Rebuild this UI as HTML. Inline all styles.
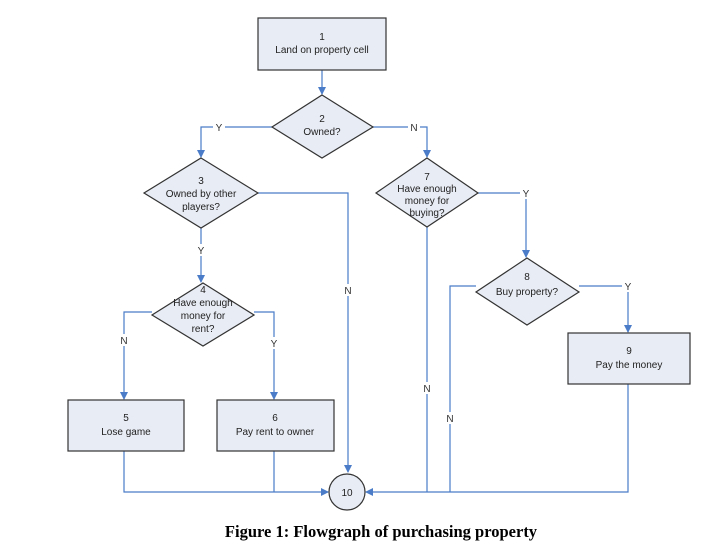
<!DOCTYPE html>
<html><head><style>body{margin:0;background:#fff}</style></head><body>
<svg width="717" height="545" xmlns="http://www.w3.org/2000/svg" font-family="Liberation Sans, sans-serif" font-size="10" fill="#222">
<defs><marker id="a" markerWidth="8" markerHeight="8" refX="7" refY="4" orient="auto" markerUnits="userSpaceOnUse"><path d="M0,0 L8,4 L0,8 z" fill="#4a7cc7"/></marker></defs>
<g stroke="#4a7cc7" stroke-width="1.2" fill="none">
<line x1="322" y1="70" x2="322" y2="94" marker-end="url(#a)"/>
<polyline points="272,127 201,127 201,157" marker-end="url(#a)"/>
<polyline points="373,127 427,127 427,157" marker-end="url(#a)"/>
<polyline points="258,193 348,193 348,472" marker-end="url(#a)"/>
<line x1="201" y1="228" x2="201" y2="282" marker-end="url(#a)"/>
<polyline points="478,193 526,193 526,257" marker-end="url(#a)"/>
<line x1="427" y1="227" x2="427" y2="492"/>
<polyline points="152,312 124,312 124,399" marker-end="url(#a)"/>
<polyline points="254,312 274,312 274,399" marker-end="url(#a)"/>
<polyline points="476,286 450,286 450,492"/>
<polyline points="579,286 628,286 628,332" marker-end="url(#a)"/>
<polyline points="124,451 124,492 328,492" marker-end="url(#a)"/>
<line x1="274" y1="451" x2="274" y2="492"/>
<polyline points="628,384 628,492 366,492" marker-end="url(#a)"/>
</g>
<g fill="#e8ecf4" stroke="#333" stroke-width="1.2">
<rect x="258" y="18" width="128" height="52"/>
<polygon points="322,95 373,127 322,158 272,127"/>
<polygon points="201,158 258,193 201,228 144,193"/>
<polygon points="427,158 478,193 427,227 376,193"/>
<polygon points="203,283 254,315 203,346 152,315"/>
<polygon points="527,258 579,292 527,325 476,292"/>
<rect x="68" y="400" width="116" height="51"/>
<rect x="217" y="400" width="117" height="51"/>
<rect x="568" y="333" width="122" height="51"/>
<circle cx="347" cy="492" r="18"/>
</g>
<g text-anchor="middle">
<text x="322" y="40">1</text><text x="322" y="53">Land on property cell</text>
<text x="322" y="122">2</text><text x="322" y="135">Owned?</text>
<text x="201" y="184">3</text><text x="201" y="197">Owned by other</text><text x="201" y="210">players?</text>
<text x="427" y="180">7</text><text x="427" y="192">Have enough</text><text x="427" y="204">money for</text><text x="427" y="216">buying?</text>
<text x="203" y="293">4</text><text x="203" y="306">Have enough</text><text x="203" y="319">money for</text><text x="203" y="332">rent?</text>
<text x="527" y="280">8</text><text x="527" y="295">Buy property?</text>
<text x="126" y="421">5</text><text x="126" y="435">Lose game</text>
<text x="275" y="421">6</text><text x="275" y="435">Pay rent to owner</text>
<text x="629" y="354">9</text><text x="629" y="368">Pay the money</text>
<text x="347" y="496">10</text>
<g fill="#333"><rect x="213" y="121" width="12" height="12" fill="#fff"/><text x="219" y="131">Y</text>
<rect x="408" y="121" width="12" height="12" fill="#fff"/><text x="414" y="131">N</text>
<rect x="520" y="187" width="12" height="12" fill="#fff"/><text x="526" y="197">Y</text>
<rect x="195" y="244" width="12" height="12" fill="#fff"/><text x="201" y="254">Y</text>
<rect x="342" y="284" width="12" height="12" fill="#fff"/><text x="348" y="294">N</text>
<rect x="118" y="334" width="12" height="12" fill="#fff"/><text x="124" y="344">N</text>
<rect x="268" y="337" width="12" height="12" fill="#fff"/><text x="274" y="347">Y</text>
<rect x="622" y="280" width="12" height="12" fill="#fff"/><text x="628" y="290">Y</text>
<rect x="421" y="382" width="12" height="12" fill="#fff"/><text x="427" y="392">N</text>
<rect x="444" y="412" width="12" height="12" fill="#fff"/><text x="450" y="422">N</text></g>
<text x="381" y="537" font-family="Liberation Serif, serif" font-weight="bold" font-size="16.5" fill="#000">Figure 1:  Flowgraph of purchasing property</text>
</g>
</svg>
</body></html>
